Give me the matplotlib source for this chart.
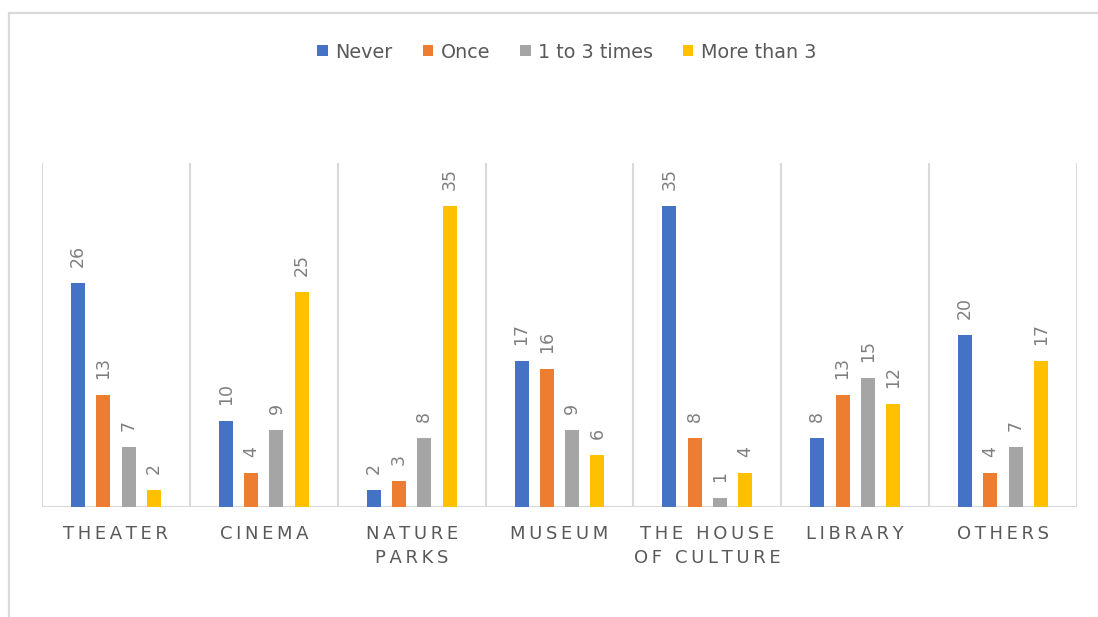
import matplotlib
matplotlib.use("Agg")
import matplotlib.pyplot as plt
import numpy as np
from matplotlib.patches import Rectangle

categories = ["THEATER", "CINEMA", "NATURE\nPARKS", "MUSEUM", "THE HOUSE\nOF CULTURE", "LIBRARY", "OTHERS"]
series_names = ["Never", "Once", "1 to 3 times", "More than 3"]
never = [26, 10, 2, 17, 35, 8, 20]
once = [13, 4, 3, 16, 8, 13, 4]
one_to_three = [7, 9, 8, 9, 1, 15, 7]
more_than_three = [2, 25, 35, 6, 4, 12, 17]
series_values = [never, once, one_to_three, more_than_three]
colors = ["#4472C4", "#ED7D31", "#A5A5A5", "#FFC000"]
text_color = "#595959"
grid_color = "#D9D9D9"

plt.rcParams['font.family'] = ['DejaVu Sans']

fig = plt.figure(figsize=(10.98, 6.17), dpi=100)
W, H = 1098, 617
ax = fig.add_axes([42 / W, 1 - 507 / H, (1077 - 42) / W, (507 - 163) / H])

# outer border of the chart (extends past right/bottom edge like the reference)
fig.patches.append(Rectangle((9 / W, -0.05), 1.2, 1 - 13 / H + 0.05, transform=fig.transFigure,
                             fill=False, edgecolor="#D9D9D9", linewidth=1.6, zorder=0))

n = len(categories)
x = np.arange(n)
step = 0.171
width = 0.095
offsets = (np.arange(4) - 1.5) * step

for i, (name, vals, c) in enumerate(zip(series_names, series_values, colors)):
    xs = x + offsets[i]
    ax.bar(xs, vals, width=width, color=c, label=name, zorder=3)
    for xi, v in zip(xs, vals):
        ax.annotate(str(v), (xi, v), xytext=(0, 11.5), textcoords="offset points",
                    rotation=90, ha="center", va="bottom", fontsize=12.5, color="#7F7F7F")

ax.set_xlim(-0.5, n - 0.5)
ax.set_ylim(0, 40)

# category separators
for b in np.arange(n + 1) - 0.5:
    ax.axvline(b, color=grid_color, linewidth=1.5, zorder=1)
ax.axhline(0, color=grid_color, linewidth=1.5, zorder=2)

for s in ax.spines.values():
    s.set_visible(False)
ax.set_yticks([])


def spaced(label):
    lines = label.split("\n")
    return "\n".join("\u2009".join(list(line)) for line in lines)


ax.set_xticks(x)
ax.set_xticklabels([spaced(c) for c in categories], fontsize=13, color=text_color, linespacing=1.42)
ax.tick_params(axis="x", length=0, pad=13)

leg = fig.legend(loc="center", bbox_to_anchor=(567 / W, 1 - 52 / H), ncol=4, frameon=False,
                 fontsize=13.8, handlelength=0.55, handleheight=0.55, handletextpad=0.4,
                 columnspacing=1.55)
for t in leg.get_texts():
    t.set_color(text_color)

fig.savefig("out.png", dpi=100)
